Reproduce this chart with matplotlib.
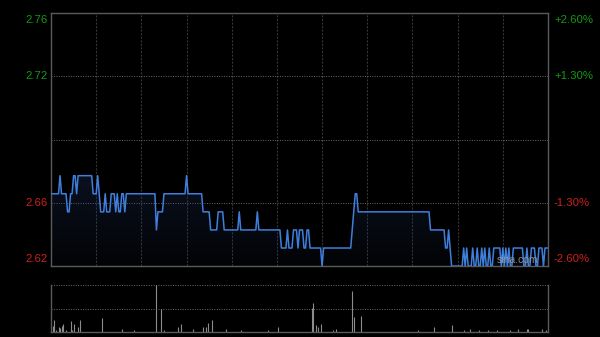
import numpy as np
import matplotlib.pyplot as plt
from matplotlib import transforms
from matplotlib.patches import Polygon

plt.rcParams['font.family'] = ['Liberation Sans', 'DejaVu Sans']

prev_close = 2.69
n_minutes = 331  # 9:30-12:00 + 13:00-16:00, one point per minute

# price as (minute where level starts, level)
change_minute = [0, 6, 7, 11, 13, 15, 17, 18, 28, 31, 32, 33, 36, 37, 40, 43, 44, 45, 47, 49,
                 50, 70, 71, 75, 90, 91, 101, 106, 111, 115, 125, 126, 137, 138,
                 153, 157, 158, 161, 164, 165, 168, 170, 172, 180, 181, 200, 201, 202, 204,
                 252, 262, 264, 265, 266, 274, 275, 276, 277, 280, 281, 283, 284, 286, 287,
                 288, 289, 291, 292, 294, 299, 300, 301, 302, 303, 304, 305, 307, 314, 316,
                 317, 319, 322, 324, 327, 328]
change_price = [2.66, 2.67, 2.66, 2.65, 2.66, 2.67, 2.66, 2.67, 2.66, 2.67, 2.66, 2.65, 2.66, 2.65, 2.66, 2.65, 2.66, 2.65, 2.66, 2.65,
                2.66, 2.64, 2.65, 2.66, 2.67, 2.66, 2.65, 2.64, 2.65, 2.64, 2.65, 2.64, 2.65, 2.64,
                2.63, 2.64, 2.63, 2.64, 2.63, 2.64, 2.63, 2.64, 2.63, 2.62, 2.63, 2.64, 2.65, 2.66, 2.65,
                2.64, 2.63, 2.64, 2.63, 2.62, 2.63, 2.62, 2.63, 2.62, 2.63, 2.62, 2.63, 2.62, 2.63, 2.62,
                2.63, 2.62, 2.63, 2.62, 2.63, 2.62, 2.63, 2.62, 2.63, 2.62, 2.63, 2.62, 2.63, 2.62, 2.63,
                2.62, 2.63, 2.62, 2.63, 2.62, 2.63]

# visible volume bars (minute, volume in 10k shares)
vol_minute = [1, 2, 3, 5, 6, 7, 8, 10, 13, 14, 15, 18, 19, 34, 47, 55, 70, 73, 75, 84,
              86, 94, 101, 103, 104, 107, 116, 126, 144, 151, 173, 174, 176, 177, 179, 187, 189, 200, 201, 206,
              244, 254, 266, 274, 278, 284, 290, 296, 305, 310, 316, 317, 326, 329]
vol = [6, 12, 2, 4.7, 3.7, 6, 8, 2, 11, 2, 8, 4.7, 12, 14, 3, 2, 47, 23, 2, 5,
       8, 3, 5, 4.7, 9, 12, 3, 2, 2, 5, 24, 29, 7, 5, 8, 2, 3.5, 41, 15, 16,
       2, 5, 7.5, 2, 3, 2, 2, 2, 2, 3.5, 3, 3, 3, 2.5]

pct_ticks = [2.6, 1.3, -1.3, -2.6]

t = np.arange(n_minutes)
price = np.repeat(change_price, np.diff(change_minute + [n_minutes]))

ymin = prev_close * (1 - 0.026)
ymax = prev_close * (1 + 0.026)
xmax = n_minutes - 1

fig = plt.figure(figsize=(6, 3.37), dpi=100, facecolor='black')
ax = fig.add_axes([51 / 600, 71 / 337, 497 / 600, 253 / 337])
ax.set_facecolor('black')
ax.set_xlim(0, xmax)
ax.set_ylim(ymin, ymax)
ax.set_xticks([])
ax.set_yticks([])
for s in ax.spines.values():
    s.set_color('#5a5a5a')
    s.set_linewidth(1.0)

for m in range(30, xmax, 30):
    ax.axvline(m, color='#333333', lw=0.8, ls=(0, (2, 1.2)), zorder=0)
for p in [1.013, 1.0, 0.987]:
    ax.axhline(prev_close * p, color='#6a6a6a', lw=0.7, ls=(0, (1, 1.5)), zorder=0)

# gradient fill under the price line
verts = [(0, ymin)] + list(zip(t, price)) + [(xmax, ymin)]
poly = Polygon(verts, closed=True, facecolor='none', edgecolor='none')
ax.add_patch(poly)
grad = np.zeros((256, 1, 4))
grad[:, 0, 0] = 0.14
grad[:, 0, 1] = 0.22
grad[:, 0, 2] = 0.40
grad[:, 0, 3] = np.linspace(0.30, 0.06, 256)
im = ax.imshow(grad, extent=[0, xmax, ymin, price.max()], aspect='auto',
               origin='upper', zorder=1)
im.set_clip_path(poly)

ax.plot(t, price, color='#3f7fdc', lw=1.1, zorder=3)

ax.text(0.939, 0.022, 'sina.com', transform=ax.transAxes, ha='center', va='center',
        fontsize=7.5, color='#a0a0a0', alpha=0.85, zorder=4)

left_tr = transforms.blended_transform_factory(ax.transAxes, ax.transData)
green, red = '#139c13', '#cc2020'
for p in pct_ticks:
    v = prev_close * (1 + p / 100)
    col = green if p > 0 else red
    if v >= ymax - 1e-9:
        va, dy = 'top', -2
    elif v <= ymin + 1e-9:
        va, dy = 'bottom', 2
    else:
        va, dy = 'center', 0
    ax.annotate(f'{v:.2f}', xy=(0, v), xycoords=left_tr, xytext=(-3, dy),
                textcoords='offset pixels', ha='right', va=va, fontsize=8.2, color=col)
    ax.annotate(f'{p:+.2f}%', xy=(1, v), xycoords=left_tr, xytext=(6, dy),
                textcoords='offset pixels', ha='left', va=va, fontsize=8.2, color=col)

# volume panel
axv = fig.add_axes([51 / 600, 5 / 337, 497 / 600, 47 / 337])
axv.set_facecolor('black')
axv.set_xlim(0, xmax)
vmax = max(vol)
axv.set_ylim(0, vmax)
axv.set_xticks([])
axv.set_yticks([])
axv.spines['top'].set_visible(False)
for side in ['left', 'right', 'bottom']:
    axv.spines[side].set_color('#5a5a5a')
    axv.spines[side].set_linewidth(1.0)
for h in [vmax, vmax / 2]:
    axv.axhline(h, color='#6a6a6a', lw=0.7, ls=(0, (1, 1.5)), zorder=0, clip_on=False)
axv.vlines(vol_minute, 0, vol, color='#8c8c8c', lw=0.8, zorder=2)

fig.savefig('out.png', dpi=100, facecolor='black')
